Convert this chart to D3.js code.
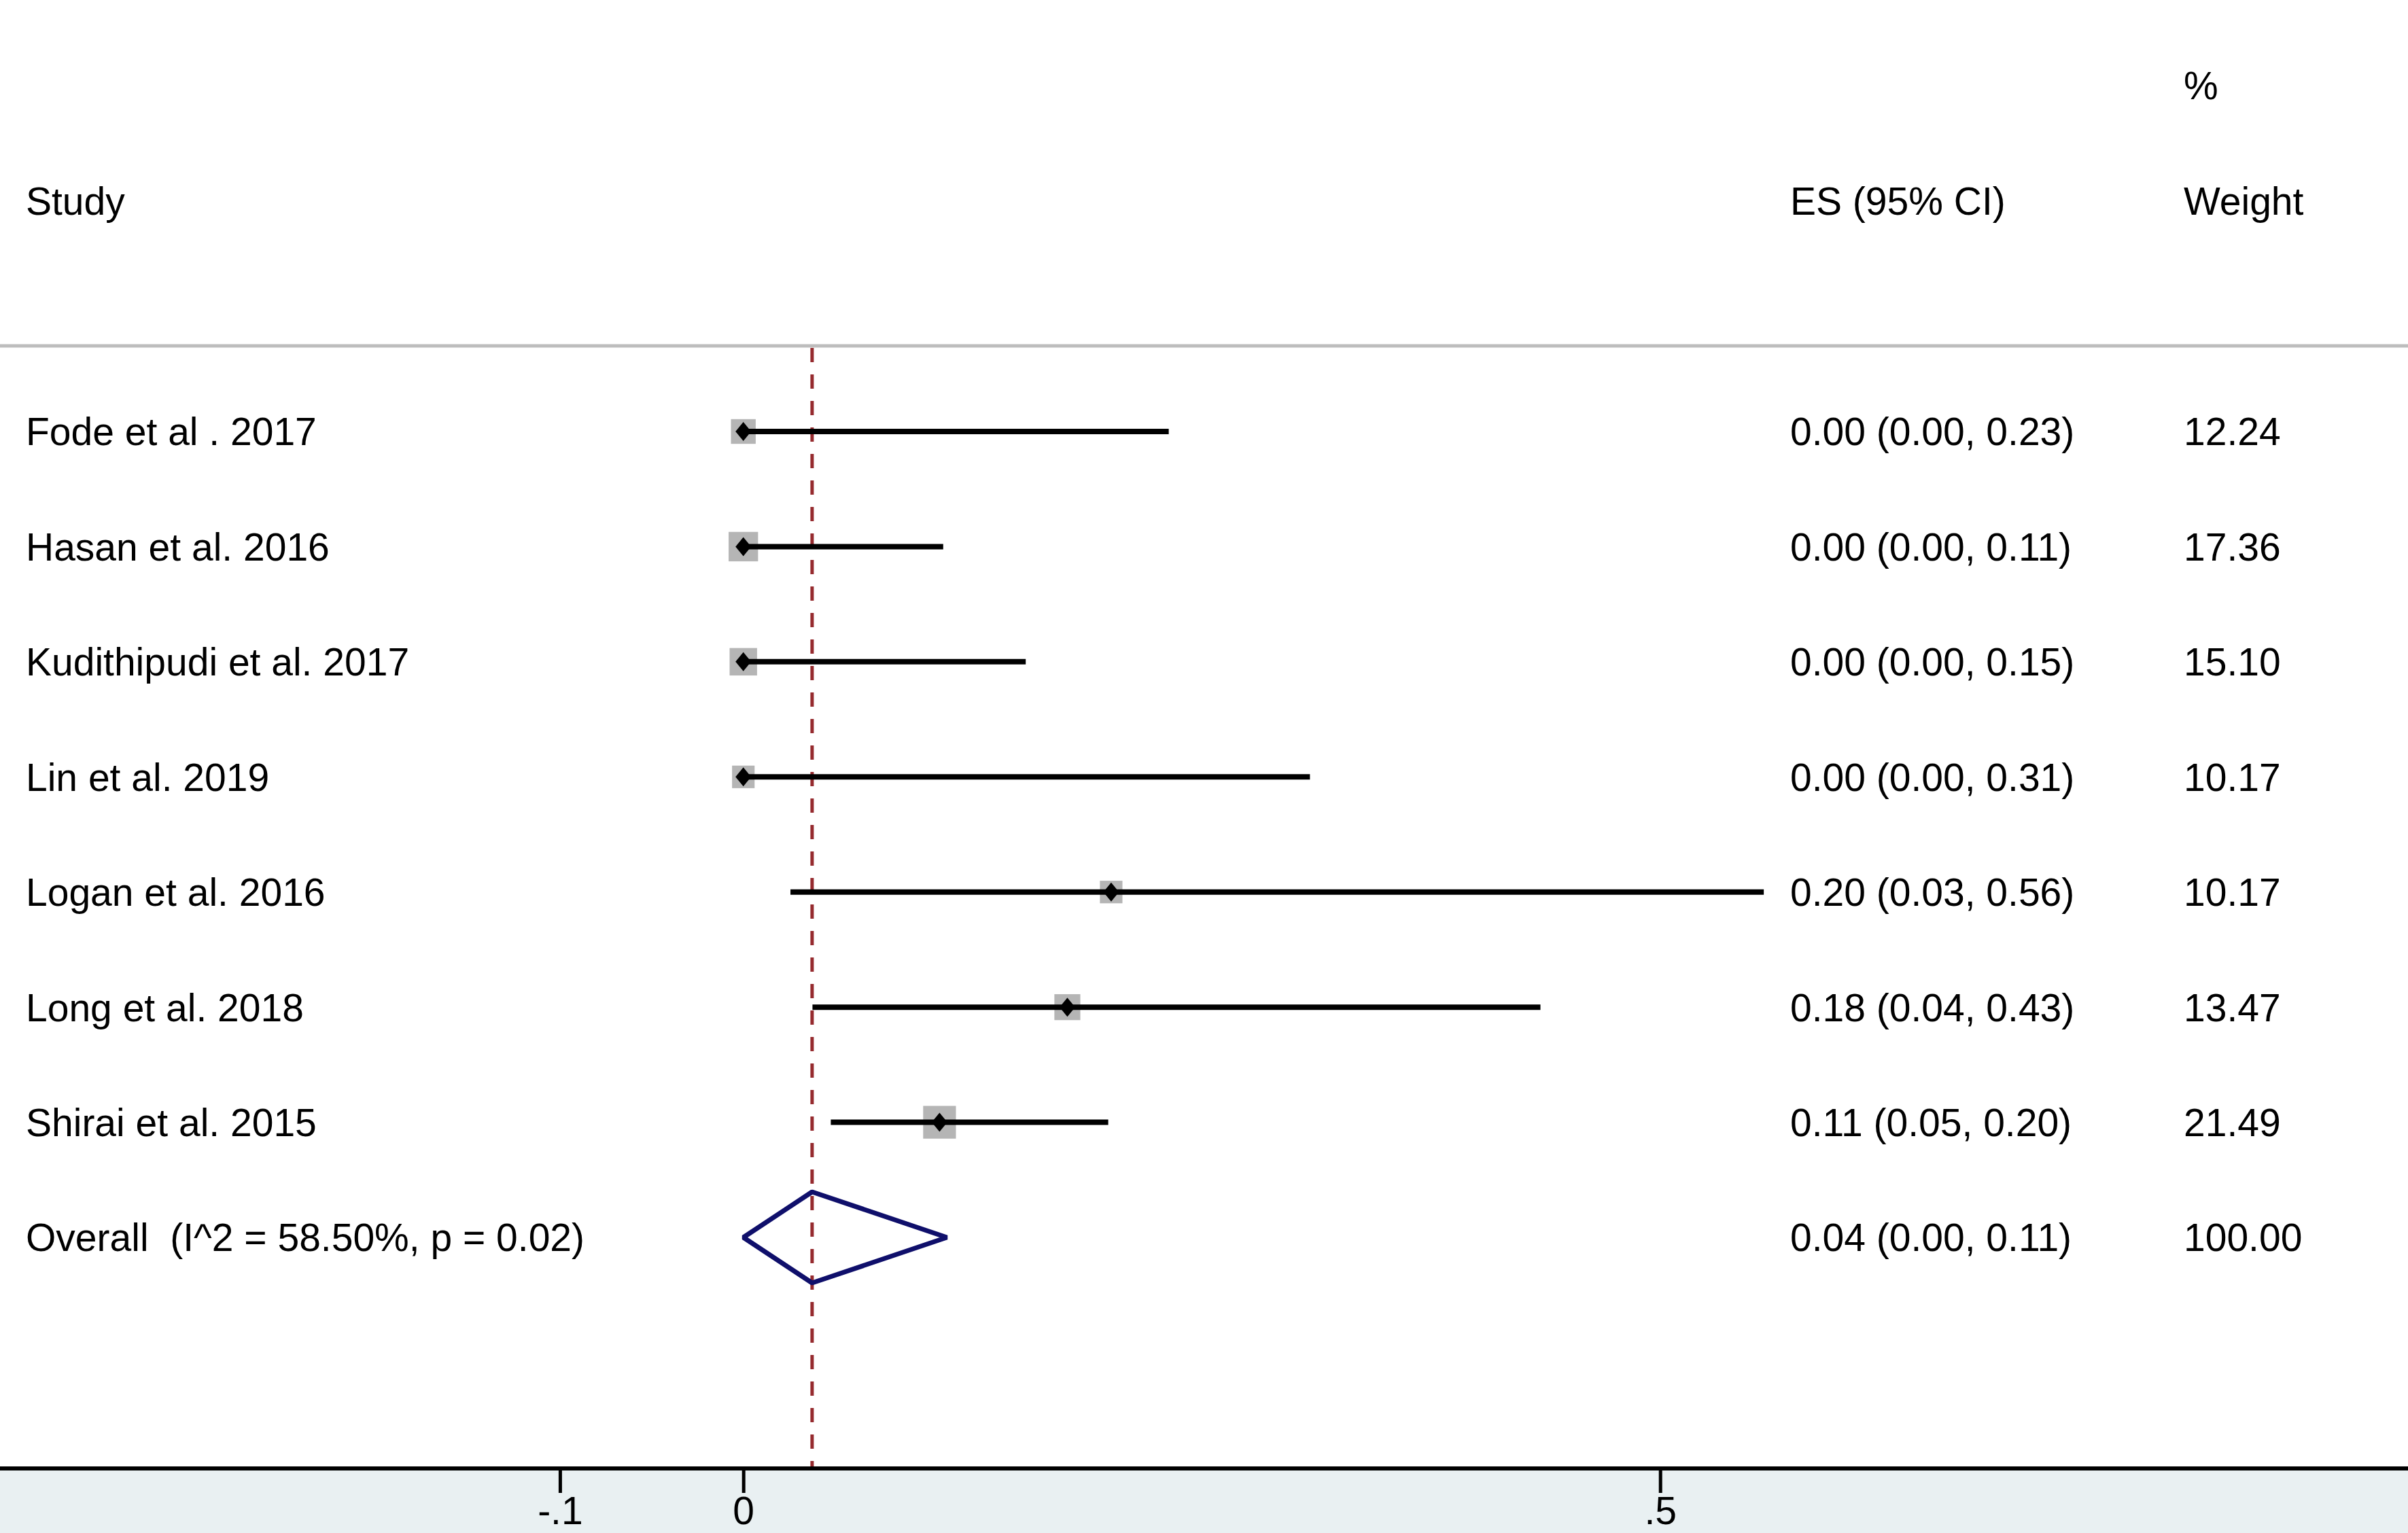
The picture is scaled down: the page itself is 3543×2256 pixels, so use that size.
<!DOCTYPE html>
<html>
<head>
<meta charset="utf-8">
<script src="https://cdn.jsdelivr.net/npm/d3@7"></script>
<style>
  html, body { margin: 0; padding: 0; background: #ffffff; }
  svg { display: block; }
  text { font-family: "Liberation Sans", Arial, Helvetica, sans-serif; fill: #000; white-space: pre; }
</style>
</head>
<body>
<svg id="chart" width="3543" height="2256"></svg>
<script>
// ---- data ----
const studies = ["Fode et al . 2017", "Hasan et al. 2016", "Kudithipudi et al. 2017", "Lin et al. 2019",
                 "Logan et al. 2016", "Long et al. 2018", "Shirai et al. 2015"];
const es      = [0.000, 0.000, 0.000, 0.000, 0.2006, 0.1767, 0.107];
const lower   = [0.000, 0.000, 0.000, 0.000, 0.0257, 0.0377, 0.0477];
const upper   = [0.232, 0.109, 0.154, 0.309, 0.5565, 0.4347, 0.199];
const esText  = ["0.00 (0.00, 0.23)", "0.00 (0.00, 0.11)", "0.00 (0.00, 0.15)", "0.00 (0.00, 0.31)",
                 "0.20 (0.03, 0.56)", "0.18 (0.04, 0.43)", "0.11 (0.05, 0.20)"];
const weights = [12.24, 17.36, 15.10, 10.17, 10.17, 13.47, 21.49];
const weightText = ["12.24", "17.36", "15.10", "10.17", "10.17", "13.47", "21.49"];

const overallLabel = "Overall  (I^2 = 58.50%, p = 0.02)";
const overallES = 0.0375, overallLower = 0.000, overallUpper = 0.111;
const overallText = "0.04 (0.00, 0.11)";
const overallWeight = "100.00";

const tickValues = [-0.1, 0, 0.5];
const tickLabels = ["-.1", "0", ".5"];
const headers = { study: "Study", es: "ES (95% CI)", pct: "%", weight: "Weight" };

// ---- layout ----
const W = 3543, H = 2256;
const svg = d3.select("#chart");
const FS = 57;
const x = d3.scaleLinear().domain([0, 0.5]).range([1093.7, 2442.7]);
const rowKeys = studies.concat([overallLabel]);
const y = d3.scalePoint().domain(rowKeys).range([635, 1821]);
const axisY = 2161;
const colLabelX = 38, colESX = 2634, colWX = 3213;
const capShift = FS * 0.358;

// background band under axis
svg.append("rect").attr("x", 0).attr("y", axisY).attr("width", W).attr("height", H - axisY)
  .attr("fill", "#e9f0f2");

// headers
svg.append("text").attr("x", colWX).attr("y", 146).attr("font-size", FS).text(headers.pct);
svg.append("text").attr("x", colLabelX).attr("y", 316).attr("font-size", FS).text(headers.study);
svg.append("text").attr("x", colESX).attr("y", 316).attr("font-size", FS).text(headers.es);
svg.append("text").attr("x", colWX).attr("y", 316).attr("font-size", FS).text(headers.weight);

// header separator
svg.append("line").attr("x1", 0).attr("x2", W).attr("y1", 509).attr("y2", 509)
  .attr("stroke", "#bdbdbd").attr("stroke-width", 5);

// overall dashed line
svg.append("line").attr("x1", x(overallES)).attr("x2", x(overallES))
  .attr("y1", 512).attr("y2", axisY - 3)
  .attr("stroke", "#962b2f").attr("stroke-width", 5).attr("stroke-dasharray", "21,18");

// study rows
const rows = studies.map((s, i) => ({ s, es: es[i], lo: lower[i], hi: upper[i], t: esText[i], w: weights[i], wt: weightText[i] }));
const g = svg.append("g");
rows.forEach(d => {
  const cy = y(d.s);
  const side = 10.4 * Math.sqrt(d.w);
  g.append("rect").attr("x", x(d.es) - side / 2).attr("y", cy - side / 2)
    .attr("width", side).attr("height", side).attr("fill", "#b5b5b5");
  g.append("line").attr("x1", x(d.lo)).attr("x2", x(d.hi)).attr("y1", cy).attr("y2", cy)
    .attr("stroke", "#000").attr("stroke-width", 8);
  const hw = 11.5, hh = 14;
  const cx = x(d.es);
  g.append("path").attr("d", `M${cx - hw},${cy} L${cx},${cy - hh} L${cx + hw},${cy} L${cx},${cy + hh} Z`)
    .attr("fill", "#000");
  g.append("text").attr("x", colLabelX).attr("y", cy + capShift).attr("font-size", FS).text(d.s);
  g.append("text").attr("x", colESX).attr("y", cy + capShift).attr("font-size", FS).text(d.t);
  g.append("text").attr("x", colWX).attr("y", cy + capShift).attr("font-size", FS).text(d.wt);
});

// overall row
const oy = y(overallLabel);
const dh = 67;
svg.append("path")
  .attr("d", `M${x(overallLower)},${oy} L${x(overallES)},${oy - dh} L${x(overallUpper)},${oy} L${x(overallES)},${oy + dh} Z`)
  .attr("fill", "none").attr("stroke", "#0f0f6b").attr("stroke-width", 7).attr("stroke-linejoin", "bevel");
svg.append("text").attr("x", colLabelX).attr("y", oy + capShift).attr("font-size", FS)
  .attr("xml:space", "preserve").text(overallLabel);
svg.append("text").attr("x", colESX).attr("y", oy + capShift).attr("font-size", FS).text(overallText);
svg.append("text").attr("x", colWX).attr("y", oy + capShift).attr("font-size", FS).text(overallWeight);

// x axis
const axis = d3.axisBottom(x).tickValues(tickValues)
  .tickFormat((d, i) => tickLabels[i]).tickSize(36).tickPadding(6);
const ag = svg.append("g").attr("transform", `translate(0,${axisY})`).call(axis);
ag.select(".domain").remove();
ag.selectAll(".tick line").attr("stroke", "#000").attr("stroke-width", 5);
ag.selectAll(".tick text").attr("font-size", FS).attr("fill", "#000")
  .attr("font-family", '"Liberation Sans", Arial, sans-serif');
svg.append("line").attr("x1", 0).attr("x2", W).attr("y1", axisY).attr("y2", axisY)
  .attr("stroke", "#000").attr("stroke-width", 6);
</script>
</body>
</html>
